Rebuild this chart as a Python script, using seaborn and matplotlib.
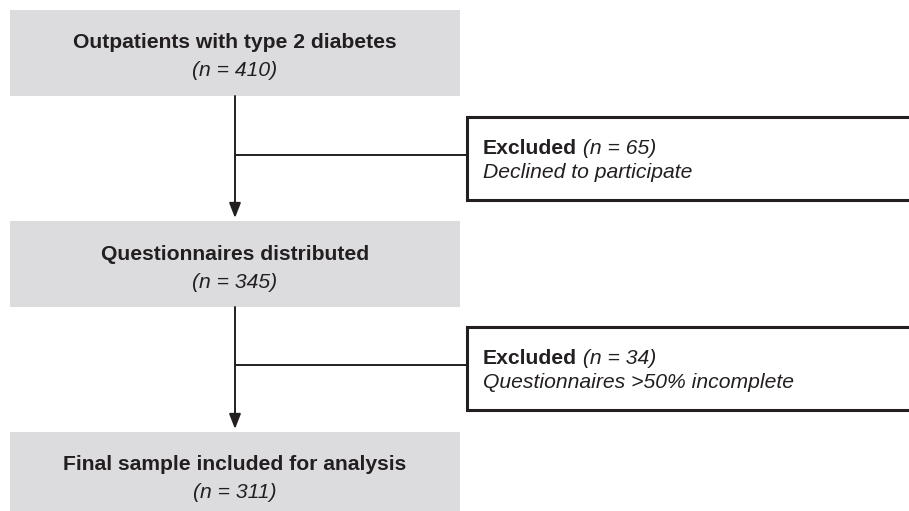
import matplotlib.pyplot as plt
import matplotlib.patches as mpatches
import seaborn as sns

sns.set_style('white')
plt.rcParams['font.family'] = ['Liberation Sans', 'DejaVu Sans']

# flow data
stage_labels = ['Outpatients with type 2 diabetes',
                'Questionnaires distributed',
                'Final sample included for analysis']
stage_n = [410, 345, 311]
excl_n = [65, 34]
excl_reasons = ['Declined to participate',
                'Questionnaires >50% incomplete']

ink = '#231f20'
grey = '#dcdcde'
fs = 15.2

fig = plt.figure(figsize=(9.09, 5.11), dpi=100)
ax = fig.add_axes([0, 0, 1, 1])
ax.set_xlim(0, 909)
ax.set_ylim(511, 0)
ax.axis('off')

# layout (pixels)
box_x0, box_x1 = 10, 460
box_tops = [10, 221, 432]
box_h = 86
cx = 235
excl_x0 = 467
excl_tops = [117, 327]
excl_h = 83

for i, (lab, n) in enumerate(zip(stage_labels, stage_n)):
    top = box_tops[i]
    h = box_h if i < 2 else 511 - top + 5
    ax.add_patch(mpatches.Rectangle((box_x0, top), box_x1 - box_x0, h,
                                    facecolor=grey, edgecolor='none'))
    ax.text(cx, top + 33, lab, ha='center', va='center', fontsize=fs,
            fontweight='bold', color=ink)
    ax.text(cx, top + 61, f'(n = {n})', ha='center', va='center',
            fontsize=fs, style='italic', color=ink)

for i, (n, reason) in enumerate(zip(excl_n, excl_reasons)):
    top = excl_tops[i]
    # vertical connector with arrow
    y0 = box_tops[i] + box_h
    y1 = box_tops[i + 1]
    ax.annotate('', xy=(cx, y1 - 3), xytext=(cx, y0),
                arrowprops=dict(arrowstyle='-|>,head_length=0.9,head_width=0.35',
                                color=ink, lw=1.4, shrinkA=0, shrinkB=0))
    ymid = top + excl_h / 2 - 3
    ax.plot([cx, excl_x0], [ymid, ymid], color=ink, lw=1.4)
    ax.add_patch(mpatches.Rectangle((excl_x0, top), 909 - excl_x0 + 20, excl_h,
                                    facecolor='white', edgecolor=ink, lw=2.2))
    t = ax.text(excl_x0 + 16, top + 31, 'Excluded', ha='left', va='center',
                fontsize=fs, fontweight='bold', color=ink)
    ax.annotate(f' (n = {n})', xy=(1, 0), xycoords=t, ha='left', va='bottom',
                fontsize=fs, style='italic', color=ink)
    ax.text(excl_x0 + 16, top + 55, reason, ha='left', va='center',
            fontsize=fs, style='italic', color=ink)

fig.savefig('out.png', dpi=100)
